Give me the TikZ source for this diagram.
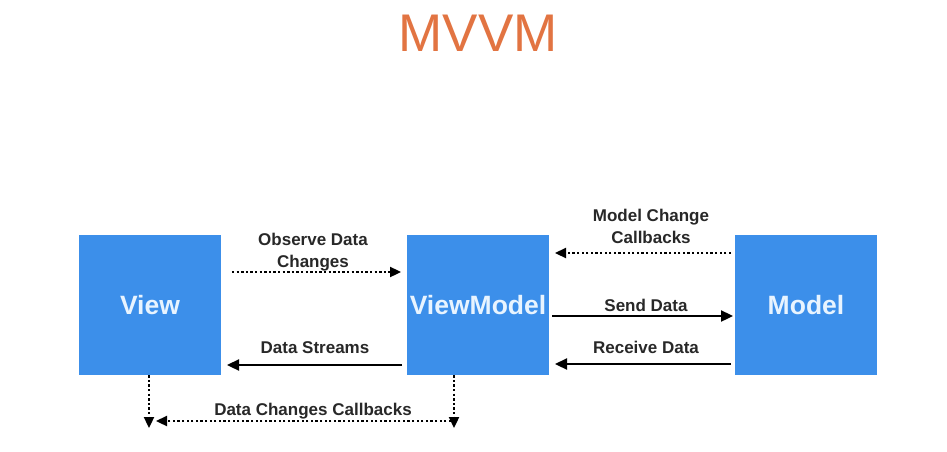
\documentclass[tikz,border=0pt]{standalone}
\usepackage{fontspec}
\setmainfont{Liberation Sans}
\usetikzlibrary{arrows.meta,calc}
\definecolor{boxblue}{RGB}{60,143,234}
\definecolor{titleor}{RGB}{226,116,66}
\definecolor{boxtext}{RGB}{232,244,255}
\definecolor{labtext}{RGB}{40,40,40}
\tikzset{
  x=1pt,y=-1pt,
  box/.style={fill=boxblue,draw=none,minimum width=142pt,minimum height=140pt,inner sep=0pt,
     text=boxtext,font=\fontsize{26.5}{28}\selectfont\bfseries},
  lab/.style={font=\fontsize{17}{22}\selectfont\bfseries,text=labtext,align=center,inner sep=0pt},
  solidarrow/.style={line width=2.3pt,-{Triangle[length=12pt,width=11pt]}},
  dotarrow/.style={line width=2.3pt,dash pattern=on 2.3pt off 2.3pt,-{Triangle[length=11pt,width=10pt]}},
}
\begin{document}
\begin{tikzpicture}
\useasboundingbox[fill=white] (0,0) rectangle (947,452);
\node[font=\fontsize{53}{56}\selectfont,text=titleor,inner sep=0pt] (title) at (478,33) {MVVM};
\node[box] (view) at (150,305) {View};
\node[box] (vm) at (478,305) {ViewModel};
\node[box] (model) at (806,305) {Model};
% View <-> ViewModel
\coordinate (o1) at (232,272);
\coordinate (o2) at (401,272);
\draw[dotarrow] (o1) -- (o2);
\node[lab] (lobs) at (313,252) {Observe Data\\Changes};
\coordinate (s1) at (402,365);
\coordinate (s2) at (227,365);
\draw[solidarrow] (s1) -- (s2);
\node[lab] (lstr) at (315,348) {Data Streams};
% ViewModel <-> Model
\coordinate (m1) at (731,253);
\coordinate (m2) at (555,253);
\draw[dotarrow] (m1) -- (m2);
\node[lab] (lmcc) at (651,226) {Model Change\\Callbacks};
\coordinate (d1) at (552,316);
\coordinate (d2) at (733,316);
\draw[solidarrow] (d1) -- (d2);
\node[lab] (lsend) at (646,305) {Send Data};
\coordinate (r1) at (731,364);
\coordinate (r2) at (555,364);
\draw[solidarrow] (r1) -- (r2);
\node[lab] (lrec) at (646,347) {Receive Data};
% Data changes callbacks
\coordinate (vb) at ($(view.south)+(-1,0)$);
\coordinate (vmb) at ($(vm.south)+(-24,0)$);
\draw[dotarrow] (vb) -- (vb |- 0,428);
\draw[dotarrow] (vmb) -- (vmb |- 0,428);
\draw[dotarrow] ($(vmb |- 0,421)+(-3,0)$) -- (156,421);
\node[lab] (ldcc) at (313,411) {Data Changes Callbacks};
\end{tikzpicture}
\end{document}
